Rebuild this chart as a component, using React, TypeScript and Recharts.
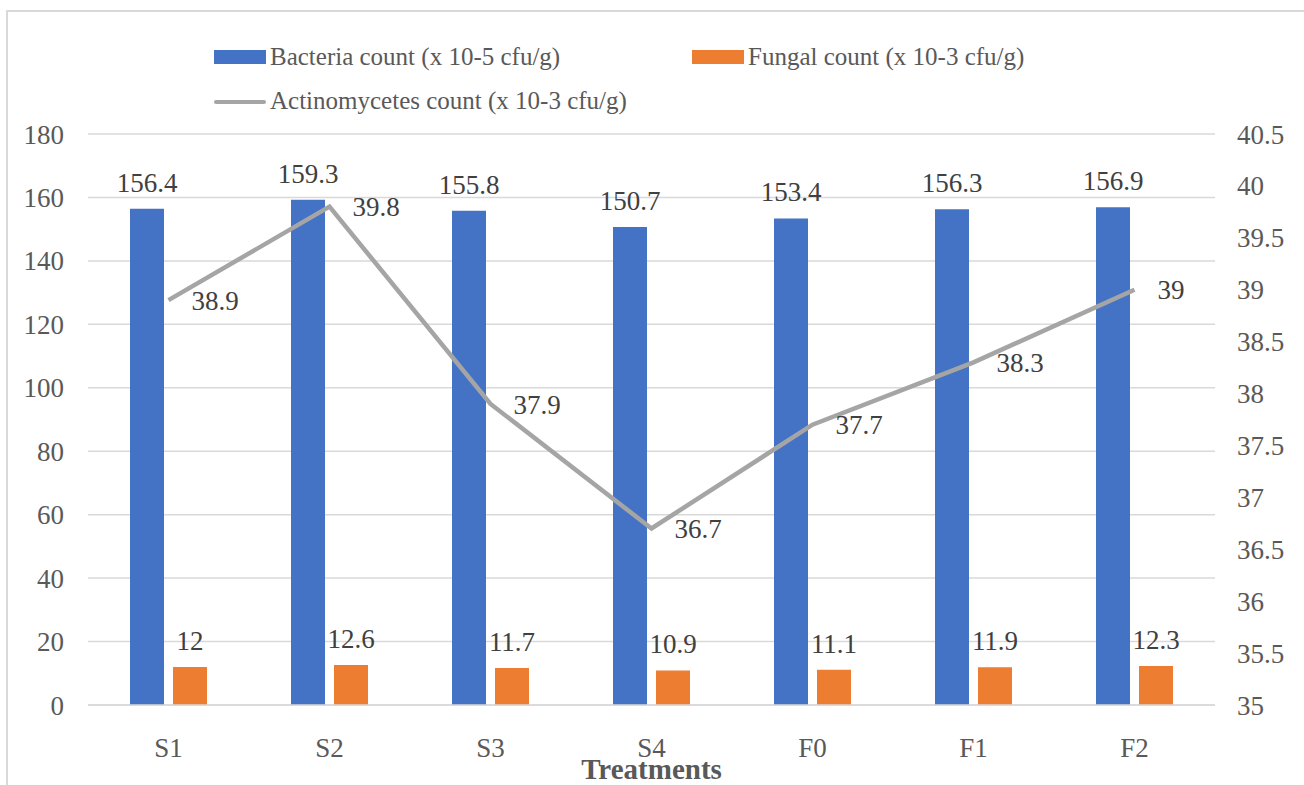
import { ComposedChart, Bar, Line, XAxis, YAxis, CartesianGrid, LabelList, Label } from 'recharts';

const treatments = ['S1', 'S2', 'S3', 'S4', 'F0', 'F1', 'F2'];
const bacteria = [156.4, 159.3, 155.8, 150.7, 153.4, 156.3, 156.9];
const fungal = [12, 12.6, 11.7, 10.9, 11.1, 11.9, 12.3];
const actino = [38.9, 39.8, 37.9, 36.7, 37.7, 38.3, 39];

const leftTicks = [0, 20, 40, 60, 80, 100, 120, 140, 160, 180];
const rightTicks = [35, 35.5, 36, 36.5, 37, 37.5, 38, 38.5, 39, 39.5, 40, 40.5];

const FONT = '"Liberation Serif", "Times New Roman", serif';
const BLUE = '#4472C4';
const ORANGE = '#ED7D31';
const GRAY = '#A5A5A5';

const data = treatments.map((t, i) => ({
  name: t,
  bacteria: bacteria[i],
  fungal: fungal[i],
  actino: actino[i],
}));

const legendText = { position: 'absolute' as const, fontSize: 25, color: '#595959', lineHeight: '28px' };
const axisTick = { fill: '#595959', fontSize: 27, fontFamily: FONT };

export default function App() {
  return (
    <div style={{ position: 'absolute', left: 0, top: 0, width: 1304, height: 785, fontFamily: FONT, background: '#fff', overflow: 'hidden' }}>
      <style>{`svg text, svg tspan { font-family: ${FONT} !important; }`}</style>
      {/* chart frame, only left/top edges visible in the crop */}
      <div style={{ position: 'absolute', left: 6, top: 10, width: 1298, height: 775, borderLeft: '2px solid #d9d9d9', borderTop: '2px solid #d9d9d9' }} />

      {/* legend */}
      <div style={{ position: 'absolute', left: 214, top: 50, width: 52, height: 14, background: BLUE }} />
      <div style={{ ...legendText, left: 270, top: 43 }}>Bacteria count (x 10-5 cfu/g)</div>
      <div style={{ position: 'absolute', left: 692, top: 50, width: 52, height: 14, background: ORANGE }} />
      <div style={{ ...legendText, left: 748, top: 43 }}>Fungal count (x 10-3 cfu/g)</div>
      <div style={{ position: 'absolute', left: 214, top: 100, width: 52, height: 4, borderRadius: 2, background: GRAY }} />
      <div style={{ ...legendText, left: 270, top: 87 }}>Actinomycetes count (x 10-3 cfu/g)</div>

      <div style={{ position: 'absolute', left: 0, top: 0 }}>
        <ComposedChart
          width={1304}
          height={785}
          data={data}
          margin={{ top: 134, right: 0, left: 0, bottom: 0 }}
          barGap={9}
        >
          <CartesianGrid yAxisId="left" vertical={false} stroke="#d9d9d9" strokeWidth={1.5} />
          <XAxis
            dataKey="name"
            height={80}
            tickSize={0}
            tickMargin={33}
            axisLine={{ stroke: '#d9d9d9', strokeWidth: 1.5 }}
            tickLine={false}
            tick={axisTick}
            interval={0}
          >
            <Label
              value="Treatments"
              position="insideBottom"
              offset={6}
              style={{ fill: '#595959', fontSize: 29, fontWeight: 'bold', fontFamily: FONT }}
            />
          </XAxis>
          <YAxis
            yAxisId="left"
            width={88}
            domain={[0, 180]}
            ticks={leftTicks}
            axisLine={false}
            tickLine={false}
            tickSize={0}
            tickMargin={24}
            tick={axisTick}
          />
          <YAxis
            yAxisId="right"
            orientation="right"
            width={89}
            domain={[35, 40.5]}
            ticks={rightTicks}
            axisLine={false}
            tickLine={false}
            tickSize={0}
            tickMargin={22}
            tick={axisTick}
          />
          <Bar yAxisId="left" dataKey="bacteria" fill={BLUE} barSize={34} isAnimationActive={false}>
            <LabelList dataKey="bacteria" position="top" offset={17} fill="#404040" fontSize={27} fontFamily={FONT} />
          </Bar>
          <Bar yAxisId="left" dataKey="fungal" fill={ORANGE} barSize={34} isAnimationActive={false}>
            <LabelList dataKey="fungal" position="top" offset={17} fill="#404040" fontSize={27} fontFamily={FONT} />
          </Bar>
          <Line
            yAxisId="right"
            dataKey="actino"
            stroke={GRAY}
            strokeWidth={4.5}
            dot={false}
            activeDot={false}
            isAnimationActive={false}
          >
            <LabelList dataKey="actino" position="right" offset={23} fill="#404040" fontSize={27} fontFamily={FONT} />
          </Line>
        </ComposedChart>
      </div>
    </div>
  );
}
